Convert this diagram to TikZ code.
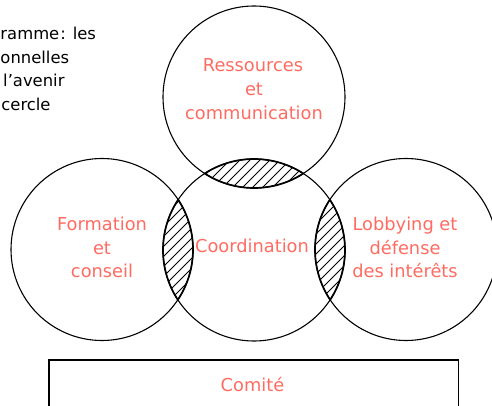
\documentclass[tikz,border=0pt]{standalone}
\usepackage{fontspec}
\setmainfont{DejaVu Sans}
\definecolor{salmon}{HTML}{FF6B61}
\begin{document}
\begin{tikzpicture}[x=1pt,y=-1pt,
  ring/.style={circle, draw=black, line width=1.1pt, minimum size=182pt, inner sep=0pt},
  lab/.style={text=salmon, font=\fontsize{17.8}{24}\selectfont, anchor=base, inner sep=0pt},
  note/.style={text=black, font=\fontsize{16.4}{23.7}\selectfont, anchor=base west, inner sep=0pt},
  hatch/.style={line width=0.8pt},
  lensrim/.style={line width=1.7pt},
  panel/.style={draw=black, line width=1.2pt, inner sep=0pt, anchor=north west}]
\useasboundingbox (0,0) rectangle (492,406);

% circles
\node[ring] (top) at (254,97) {};
\node[ring] (left) at (102,249.5) {};
\node[ring] (mid) at (254,250) {};
\node[ring] (right) at (406,249.5) {};

% hatched lenses
\foreach \a/\b in {top/mid, left/mid, right/mid}{
  \begin{scope}
    \clip (\a.center) circle (91pt);
    \clip (\b.center) circle (91pt);
    \foreach \c in {0,10,...,900}{
      \draw[hatch] (\c,0) -- ++(-406,406);
    }
  \end{scope}
  \begin{scope}
    \clip (\a.center) circle (91pt);
    \draw[lensrim] (\b.center) circle (91pt);
  \end{scope}
  \begin{scope}
    \clip (\b.center) circle (91pt);
    \draw[lensrim] (\a.center) circle (91pt);
  \end{scope}
}

% top-left note
\node[note] (n1) at (0.3,39.5) {ramme\kern1pt: les};
\node[note] (n2) at (0.3,63.2) {onnelles};
\node[note] (n3) at (3,86.9) {l’avenir};
\node[note] (n4) at (1.2,110.6) {cercle};

% labels
\node[lab] (r1) at (253,71.7) {Ressources};
\node[lab] (r2) at (254,95.6) {et};
\node[lab] (r3) at (254,119.5) {communication};

\node[lab] (f1) at (102,230) {Formation};
\node[lab] (f2) at (102,254) {et};
\node[lab] (f3) at (102,277.7) {conseil};

\node[lab] (c1) at (252,252.7) {Coordination};

\node[lab] (l1) at (405,230) {Lobbying et};
\node[lab] (l2) at (405,254) {défense};
\node[lab] (l3) at (405,277.7) {des intérêts};

% committee box
\node[panel, minimum width=409.4pt, minimum height=60pt] (box) at (48.3,359.3) {};
\node[lab] (k1) at (252.5,391) {Comité};
\end{tikzpicture}
\end{document}
